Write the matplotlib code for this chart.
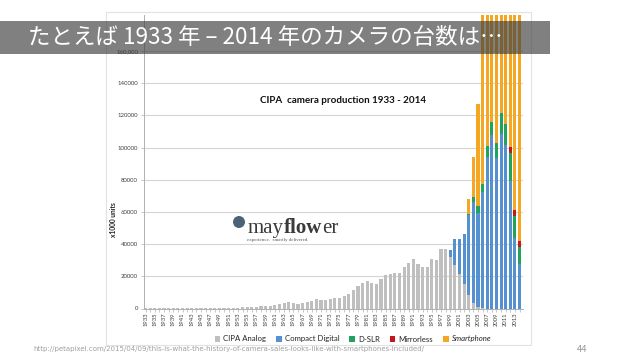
import numpy as np
import matplotlib
matplotlib.use('Agg')
import matplotlib.pyplot as plt
from matplotlib.patches import Rectangle, Ellipse

# ---- data (x1000 units) ----
years = list(range(1933, 2015))

analog = [100, 100, 150, 150, 200, 200, 200, 150, 150, 150, 100, 100, 50, 100, 150, 200, 250, 300,
          350, 450, 550, 650, 800, 950, 1100, 1300, 1500, 1800,
          2300, 2900, 3700, 4300, 3700, 2900, 3500, 3900, 4500, 5600,
          5200, 5200, 5600, 6400, 6400, 7500, 9300, 11600, 13700, 15700,
          17200, 16100, 15500, 18200, 20500, 21300, 21800, 22000, 25600, 28000,
          30500, 27400, 25600, 25600, 30500, 30100, 36700, 36700, 32000, 26800,
          21200, 15400, 8500, 3500, 1200, 400, 0, 0, 0, 0,
          0, 0, 0, 0]

compact_years = list(range(1999, 2015))
compact = [4500, 16200, 21800, 30800, 49500, 62900, 58200, 72100,
           93900, 107900, 93400, 108400, 101500, 79200, 43600, 27600]

dslr_years = list(range(2003, 2015))
dslr = [800, 3000, 4000, 4900, 7000, 8000, 9300, 13200, 13400, 17200, 13800, 10400]

mirrorless_years = [2012, 2013, 2014]
mirrorless = [4100, 3700, 4000]

smartphone_years = list(range(2003, 2015))
smartphone = [9200, 24400, 63600, 120000, 122000, 139000, 172000, 297000,
              472000, 680000, 969000, 1245000]

labels = ['CIPA Analog', 'Compact Digital', 'D-SLR', 'Mirrorless', 'Smartphone']
colors = ['#bfbfbf', '#5590d0', '#22a35c', '#c4161e', '#f5a623']


def full_series(sub_years, values):
    out = np.zeros(len(years))
    for y, v in zip(sub_years, values):
        out[years.index(y)] = v
    return out


series = [np.array(analog, dtype=float),
          full_series(compact_years, compact),
          full_series(dslr_years, dslr),
          full_series(mirrorless_years, mirrorless),
          full_series(smartphone_years, smartphone)]

plt.rcParams['font.family'] = ['Lato', 'DejaVu Sans']

fig = plt.figure(figsize=(6.38, 3.59), dpi=100)
fig.patch.set_facecolor('white')

# chart frame
fig.add_artist(Rectangle((106 / 638, 14 / 359), 425 / 638, 333 / 359, transform=fig.transFigure,
                         fill=False, edgecolor='#e2e2e2', lw=0.8))

ax = fig.add_axes([143.5 / 638, 50.5 / 359, 379.5 / 638, 293.5 / 359])
x = np.arange(len(years))
bottom = np.zeros(len(years))
for values, label, color in zip(series, labels, colors):
    ax.bar(x, values, width=0.68, bottom=bottom, color=color, label=label, linewidth=0)
    bottom = bottom + values

ax.set_xlim(-0.45, 81.75)
ax.set_ylim(0, 182300)
ax.set_axisbelow(True)
ax.yaxis.grid(True, color='#d4d4d4', lw=0.8)
for side in ['top', 'right']:
    ax.spines[side].set_visible(False)
ax.spines['left'].set_color('#b0b0b0')
ax.spines['bottom'].set_color('#b0b0b0')
ax.spines['left'].set_linewidth(0.7)
ax.spines['bottom'].set_linewidth(0.7)

yticks = list(range(0, 180000, 20000))
ax.set_yticks(yticks)
ax.set_yticklabels([str(t) for t in yticks[:-1]] + ['160,000'])
ax.tick_params(axis='y', length=2, width=0.5, color='#b0b0b0', labelsize=4.3,
               labelcolor='#404040', pad=2)
ax.set_xticks(x[::2])
ax.set_xticklabels([str(y) for y in years[::2]], rotation=90)
ax.set_xticks(x[1::2], minor=True)
ax.tick_params(axis='x', which='both', length=2, width=0.5, color='#b0b0b0', labelsize=4.2,
               labelcolor='#404040', pad=1)

fig.text(343 / 638, 1 - 100.7 / 359, 'CIPA  camera production 1933 - 2014',
         ha='center', va='center', fontsize=7.1, fontweight='bold', color='#111111')
fig.text(113 / 638, 1 - 220 / 359, 'x1000 units', rotation=90, ha='center', va='center',
         fontsize=4.8, fontweight='bold', color='#222222')

leg = fig.legend(ncol=5, loc='center', bbox_to_anchor=(353 / 638, 1 - 339 / 359), frameon=False,
                 fontsize=5.6, handlelength=0.7, handleheight=0.7, handletextpad=0.4,
                 columnspacing=1.3, labelcolor='#222222')
leg.get_texts()[4].set_style('italic')

# mayflower logo
fig.add_artist(Ellipse((239 / 638, 1 - 222 / 359), 12 / 638, 12 / 359, transform=fig.transFigure,
                       facecolor='#4b6277', edgecolor='none'))
t1 = fig.text(248 / 638, 1 - 233 / 359, 'may', family='Liberation Serif', fontsize=15,
              color='#3a3a3a', va='baseline')
t2 = plt.annotate('flow', xy=(1, 0), xycoords=t1, va='bottom', ha='left', family='Liberation Serif',
                  fontsize=15, fontweight='bold', color='#3a3a3a', annotation_clip=False)
plt.annotate('er', xy=(1, 0), xycoords=t2, va='bottom', ha='left', family='Liberation Serif',
             fontsize=15, color='#3a3a3a', annotation_clip=False)
fig.text(247 / 638, 1 - 239.5 / 359, 'experience.  smartly delivered.', family='Liberation Serif',
         fontsize=3.6, color='#555555', va='center')

# slide title bar
fig.add_artist(Rectangle((0, 1 - 53.5 / 359), 550 / 638, 33 / 359, transform=fig.transFigure,
                         facecolor='#3c3c3c', alpha=0.65, lw=0, zorder=5))
fig.text(28 / 638, 1 - 37 / 359, 'たとえば 1933 年 – 2014 年のカメラの台数は…', color='white',
         family=['Noto Sans CJK JP', 'DejaVu Sans'], fontsize=16.2, va='center', ha='left', zorder=6)

fig.text(33 / 638, 1 - 349 / 359,
         'http://petapixel.com/2015/04/09/this-is-what-the-history-of-camera-sales-looks-like-with-smartphones-included/',
         fontsize=5.0, color='#a0a0a0', va='center', family='DejaVu Sans')
fig.text(582 / 638, 1 - 349 / 359, '44', fontsize=6.5, color='#909090', va='center', ha='center')

fig.savefig('out.png', dpi=100)
